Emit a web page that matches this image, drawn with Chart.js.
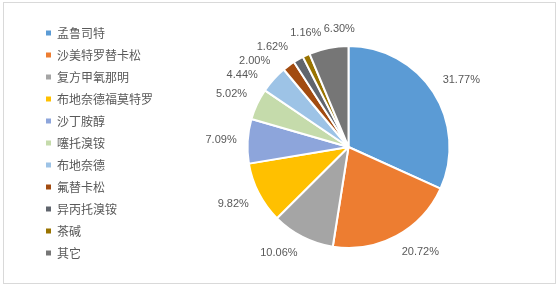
<!DOCTYPE html>
<html>
<head>
<meta charset="utf-8">
<script src="https://cdn.jsdelivr.net/npm/chart.js@4.4.1/dist/chart.umd.min.js"></script>
<style>
  html, body { margin: 0; padding: 0; background: #fff; }
  #wrap { position: relative; width: 560px; height: 285px; }
  #frame { position: absolute; left: 3px; top: 2px; width: 551px; height: 280px; border: 1px solid #d9d9d9; pointer-events: none; }
</style>
</head>
<body>
<div id="wrap">
  <canvas id="pie" width="560" height="285"></canvas>
  <div id="frame"></div>
</div>
<script>
// drug names (legend) and their market share, %
const drugs = ['孟鲁司特', '沙美特罗替卡松', '复方甲氧那明', '布地奈德福莫特罗', '沙丁胺醇',
               '噻托溴铵', '布地奈德', '氟替卡松', '异丙托溴铵', '茶碱', '其它'];
const shares = [31.77, 20.72, 10.06, 9.82, 7.09, 5.02, 4.44, 2.00, 1.62, 1.16, 6.30];
const sliceColors = ['#5b9bd5', '#ed7d31', '#a5a5a5', '#ffc000', '#8da5db', '#c5dbab',
                     '#9dc3e6', '#a24b10', '#60656d', '#997300', '#767676'];

// percent labels outside the slices, pushed apart when they collide
const outsideLabels = {
    id: 'outsideLabels',
    afterLayout(chart) {
        // legend sits a little higher than the pie centre
        chart.legend.top -= 4;
        chart.legend.bottom -= 4;
    },
    afterDatasetsDraw(chart) {
        const ctx = chart.ctx;
        const arcs = chart.getDatasetMeta(0).data;
        ctx.save();
        ctx.font = '11px "Liberation Sans", Arial, sans-serif';
        ctx.fillStyle = '#595959';
        ctx.textAlign = 'center';
        ctx.textBaseline = 'middle';
        const h = 12, gap = 11;
        const clamp = v => Math.max(-1, Math.min(1, v * 3));
        const items = arcs.map((arc, i) => {
            const text = shares[i].toFixed(2) + '%';
            return { text, arc, w: ctx.measureText(text).width, a: (arc.startAngle + arc.endAngle) / 2 };
        });
        const place = it => {
            const { x, y, outerRadius } = it.arc;
            const c = Math.cos(it.a), s = Math.sin(it.a);
            const R = outerRadius + gap;
            it.cx = x + c * R + clamp(c) * it.w / 2;
            it.cy = y + s * R + clamp(s) * h / 2;
        };
        items.forEach(place);
        const overlap = (p, q) => Math.abs(p.cx - q.cx) < (p.w + q.w) / 2 + 2 && Math.abs(p.cy - q.cy) < h + 2;
        for (let n = 0; n < 500; n++) {
            let moved = false;
            for (let i = 0; i < items.length; i++) {
                const p = items[i], q = items[(i + 1) % items.length];
                if (overlap(p, q)) {
                    p.a -= 0.004; q.a += 0.004;
                    place(p); place(q);
                    moved = true;
                }
            }
            if (!moved) break;
        }
        items.forEach(it => ctx.fillText(it.text, it.cx, it.cy));
        ctx.restore();
    }
};

const ctx = document.getElementById('pie').getContext('2d');
new Chart(ctx, {
    type: 'pie',
    data: {
        labels: drugs,
        datasets: [{
            data: shares,
            backgroundColor: sliceColors,
            borderColor: '#fff',
            borderWidth: 2,
            radius: 101
        }]
    },
    options: {
        responsive: false,
        animation: false,
        layout: { padding: { left: 36, right: 26, top: 9, bottom: 0 } },
        plugins: {
            tooltip: { enabled: false },
            legend: {
                position: 'left',
                labels: {
                    boxWidth: 5,
                    boxHeight: 5,
                    padding: 10,
                    color: '#595959',
                    font: { family: '"Noto Sans CJK SC", sans-serif', size: 12 },
                    generateLabels(chart) {
                        const base = Chart.overrides.pie.plugins.legend.labels.generateLabels(chart);
                        return base.map(l => Object.assign(l, { lineWidth: 0 }));
                    }
                }
            }
        }
    },
    plugins: [outsideLabels]
});
</script>
</body>
</html>
